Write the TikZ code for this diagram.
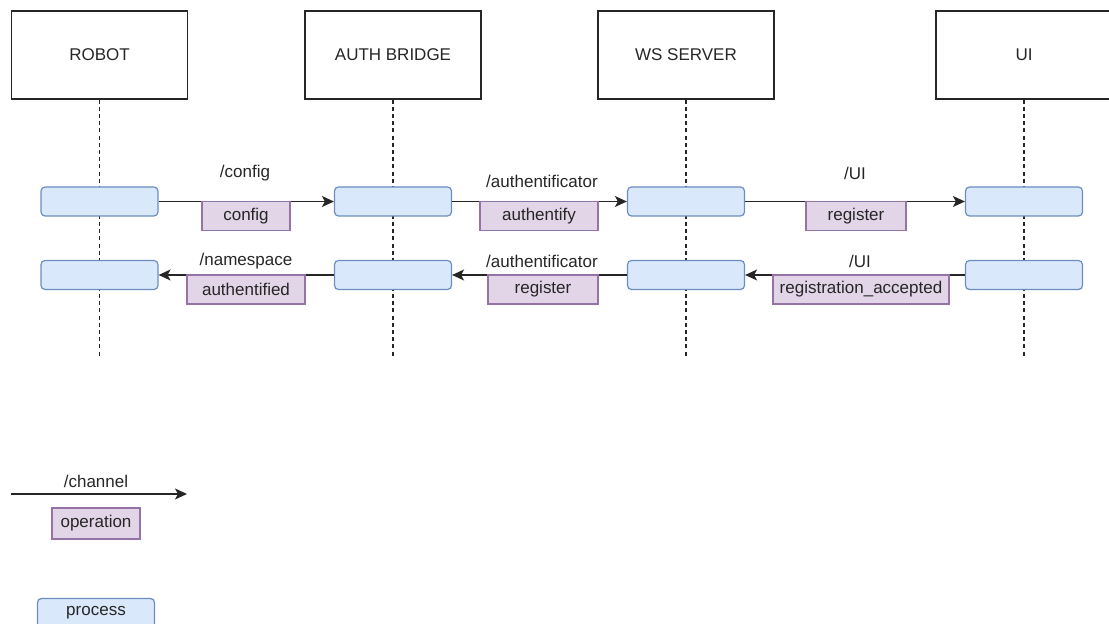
\documentclass[tikz,border=0pt]{standalone}
\usepackage{fontspec}
\setmainfont{Liberation Sans}
\usetikzlibrary{positioning, arrows.meta}

\definecolor{procfill}{HTML}{DAE8FC}
\definecolor{procline}{HTML}{6C8EBF}
\definecolor{opfill}{HTML}{E1D5E7}
\definecolor{opline}{HTML}{9673A6}

\begin{document}
\begin{tikzpicture}[
    x=0.5pt, y=-0.5pt,
    every node/.style={font=\fontsize{8.5}{10}\selectfont, text=black!85},
    actor/.style={draw=black!85, line width=0.6pt, minimum width=88pt, minimum height=44pt},
    lifeline/.style={black!85, line width=0.6pt, dash pattern=on 2pt off 1.6pt},
    process/.style={draw=procline, fill=procfill, line width=0.6pt, rounded corners=2pt,
        minimum width=58.5pt, minimum height=14.5pt},
    opbox/.style={draw=opline, fill=opfill, line width=0.6pt, minimum height=14.5pt, inner sep=0pt},
    msg/.style={black!85, line width=0.7pt, -{Stealth[length=6pt, width=5.5pt, inset=1.5pt]}},
    chan/.style={inner sep=0pt}
]

\clip (0,0) rectangle (1109,624);

% actors, lifelines and processes
\foreach \name/\x/\label in {robot/99.5/ROBOT, auth/393/AUTH BRIDGE, ws/686/WS SERVER, ui/1024/UI} {
    \node[actor] (\name) at (\x,55) {\label};
    \coordinate (\name-end) at (\x,358);
    \draw[lifeline] (\name) -- (\name-end);
    \node[process] (\name1) at (\x,201.5) {};
    \node[process] (\name2) at (\x,275) {};
}

% first row of messages
\draw[msg] (robot1) -- (auth1);
\draw[msg] (auth1) -- (ws1);
\draw[msg] (ws1) -- (ui1);
\node[chan] (c-config) at (245,173) {/config};
\node[chan] (c-auth1) at (542,181) {/authentificator};
\node[chan] (c-ui1) at (855,173) {/UI};
\node[opbox, minimum width=44pt] (op-config) at (246,216) {config};
\node[opbox, minimum width=59pt] (op-authentify) at (539,216) {authentify};
\node[opbox, minimum width=50pt] (op-register1) at (856,216) {register};

% second row of messages
\draw[msg] (auth2) -- (robot2);
\draw[msg] (ws2) -- (auth2);
\draw[msg] (ui2) -- (ws2);
\node[chan] (c-namespace) at (246,261) {/namespace};
\node[chan] (c-auth2) at (542,261) {/authentificator};
\node[chan] (c-ui2) at (860,261) {/UI};
\node[opbox, minimum width=59pt] (op-authentified) at (246,289.5) {authentified};
\node[opbox, minimum width=55pt] (op-register2) at (543,289.5) {register};
\node[opbox, minimum width=88pt] (op-accepted) at (861,289.5) {registration\_accepted};

% legend
\coordinate (leg-start) at (11,494);
\coordinate (leg-stop) at (187,494);
\draw[msg] (leg-start) -- (leg-stop);
\node[chan] (leg-chan) at (96,481) {/channel};
\node[opbox, minimum width=44pt, minimum height=15.5pt] (leg-op) at (96,523.5) {operation};
\node[process] (leg-proc) at (96,613) {process};

\end{tikzpicture}
\end{document}
